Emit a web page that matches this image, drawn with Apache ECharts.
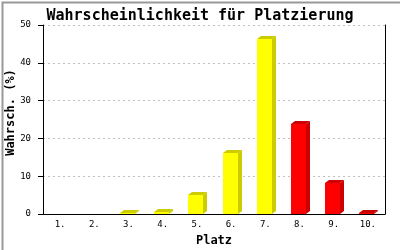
<!DOCTYPE html>
<html>
<head>
<meta charset="utf-8">
<script src="https://cdn.jsdelivr.net/npm/echarts@6/dist/echarts.min.js"></script>
<style>
html,body{margin:0;padding:0;background:#fff;}
#c{width:400px;height:250px;}
</style>
</head>
<body>
<div id="c"></div>
<script>
const categories = ['1.', '2.', '3.', '4.', '5.', '6.', '7.', '8.', '9.', '10.'];
const values = [0, 0, 0.2, 0.5, 5.0, 16.2, 46.4, 23.8, 8.2, 0.3];
const yTicks = [0, 10, 20, 30, 40, 50];

const FONT = '"DejaVu Sans Mono", "Liberation Mono", monospace';
const chart = echarts.init(document.getElementById('c'), null, {renderer: 'canvas'});

function colorsFor(idx) {
  return idx >= 7 ? {front: '#ff0000', side: '#cc0000'} : {front: '#ffff00', side: '#cccc00'};
}

function renderItem(params, api) {
  const idx = api.value(0);
  const v = api.value(1);
  if (!v) return null;
  const top = api.coord([idx, v]);
  const base = api.coord([idx, 0]);
  const bw = 15, dx = 4, dy = 3;
  const x0 = Math.round(top[0] - bw / 2 - 1);
  const yt = Math.round(top[1]), yb = Math.round(base[1]);
  const c = colorsFor(idx);
  return {
    type: 'group',
    children: [
      {type: 'polygon', shape: {points: [[x0 + bw, yt], [x0 + bw + dx, yt - dy], [x0 + bw + dx, yb - dy], [x0 + bw, yb]]}, style: {fill: c.side}},
      {type: 'polygon', shape: {points: [[x0, yt], [x0 + dx, yt - dy], [x0 + bw + dx, yt - dy], [x0 + bw, yt]]}, style: {fill: c.side}},
      {type: 'rect', shape: {x: x0, y: yt, width: bw, height: yb - yt}, style: {fill: c.front}}
    ]
  };
}

chart.setOption({
  animation: false,
  backgroundColor: '#ffffff',
  title: {
    text: 'Wahrscheinlichkeit für Platzierung',
    left: 'center', top: 4,
    textStyle: {fontFamily: FONT, fontSize: 15, fontWeight: 'bold', color: '#000'}
  },
  graphic: [{
    type: 'rect', left: 0, top: 0, silent: true, z: 100,
    shape: {x: 0, y: 0, width: 399, height: 249},
    style: {fill: 'none', stroke: '#999999', lineWidth: 2}
  }],
  grid: {left: 43, right: 15, top: 25, bottom: 36, containLabel: false, outerBoundsMode: 'none'},
  xAxis: {
    type: 'category',
    data: categories,
    boundaryGap: true,
    name: 'Platz', nameLocation: 'middle', nameGap: 21,
    nameTextStyle: {fontFamily: FONT, fontSize: 12, fontWeight: 'bold', color: '#000'},
    axisLine: {show: true, lineStyle: {color: '#000', width: 1}},
    axisTick: {show: false},
    axisLabel: {fontFamily: FONT, fontSize: 9, color: '#000', margin: 6}
  },
  yAxis: [{
    type: 'value', min: yTicks[0], max: yTicks[yTicks.length - 1], interval: 10,
    name: 'Wahrsch. (%)', nameLocation: 'middle', nameGap: 26, nameRotate: 90, nameMoveOverlap: false,
    nameTextStyle: {fontFamily: FONT, fontSize: 12, fontWeight: 'bold', color: '#000', padding: [0, 0, 0, 14]},
    axisLine: {show: true, lineStyle: {color: '#000', width: 1}},
    axisTick: {show: true, length: 5, lineStyle: {color: '#000'}},
    axisLabel: {fontFamily: FONT, fontSize: 9, color: '#000', margin: 12},
    splitLine: {show: true, lineStyle: {color: '#c0c0c0', type: [2, 3]}}
  }, {
    type: 'value', min: yTicks[0], max: yTicks[yTicks.length - 1], interval: 10,
    position: 'right',
    axisLine: {show: true, lineStyle: {color: '#000', width: 1}},
    axisTick: {show: false}, axisLabel: {show: false}, splitLine: {show: false}
  }],
  series: [{
    type: 'custom',
    renderItem: renderItem,
    encode: {x: 0, y: 1},
    data: values.map((v, i) => [i, v])
  }]
});
</script>
</body>
</html>
